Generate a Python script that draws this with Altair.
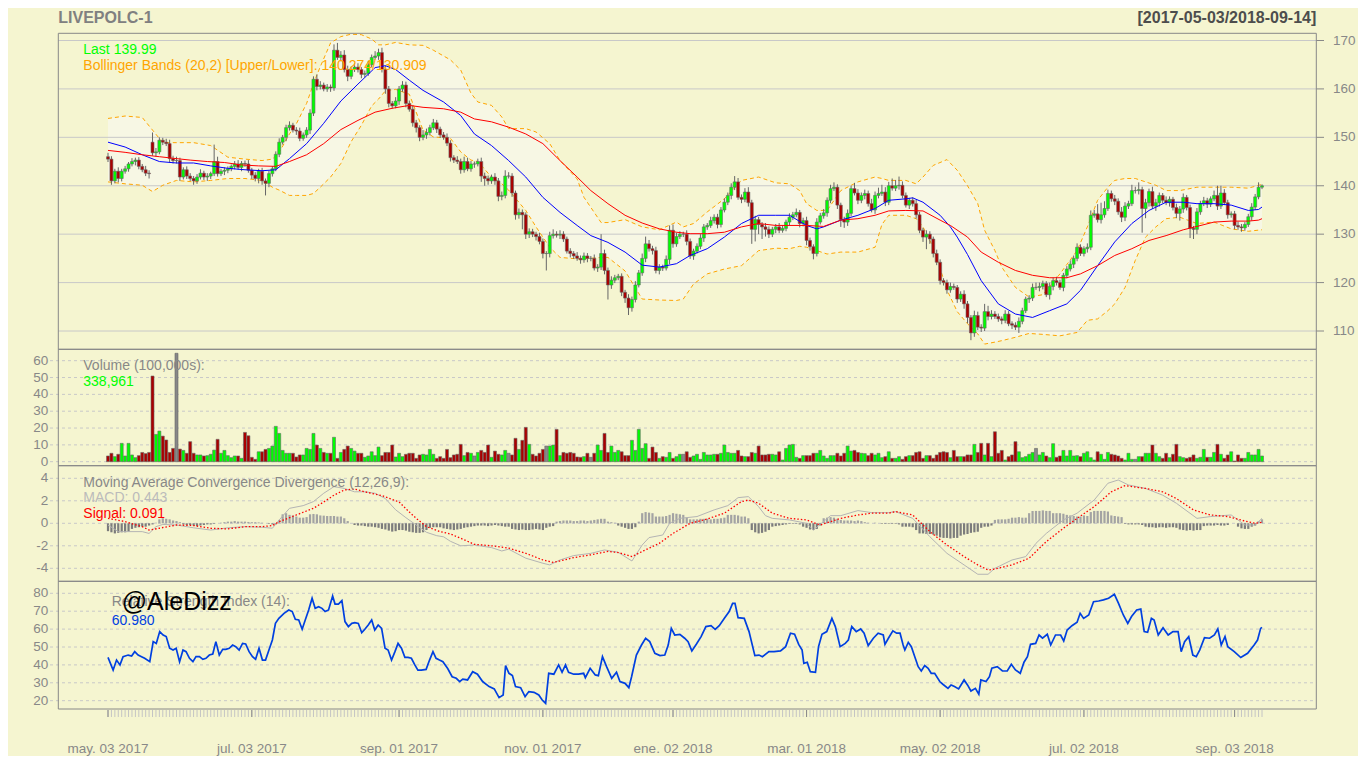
import altair as alt
import pandas as pd

# ---------------- data ----------------
# daily closes, 2017-05-03 .. 2018-09-14 (338 sessions)
closes = [
    145.5, 141.0, 143.0, 141.5, 143.0, 143.5, 144.5, 145.0, 145.3, 144.0, 143.3, 142.6, 142.5, 146.8, 147.0, 149.4, 149.0, 148.7, 145.6, 145.2,
    145.2, 141.8, 143.3, 142.0, 141.5, 141.0, 141.8, 142.6, 141.8, 142.0, 142.5, 145.0, 142.5, 143.0, 143.2, 143.5, 144.0, 144.5, 143.8, 144.6,
    144.5, 143.2, 142.2, 141.5, 143.0, 141.0, 140.5, 142.5, 143.5, 146.5, 149.0, 150.0, 152.0, 152.5, 151.5, 151.3, 149.8, 150.5, 151.5, 155.0,
    162.0, 160.5, 160.8, 160.0, 160.4, 160.2, 168.0, 166.5, 167.0, 164.0, 162.6, 164.0, 164.5, 164.0, 163.0, 163.2, 165.0, 166.5, 166.8, 167.5,
    164.0, 160.0, 157.0, 156.5, 157.5, 160.0, 160.8, 157.0, 155.8, 153.0, 152.0, 150.0, 150.5, 151.0, 152.0, 153.0, 151.7, 150.5, 150.0, 148.8,
    145.8, 145.3, 145.0, 143.3, 145.0, 143.5, 144.5, 144.5, 145.0, 142.0, 141.5, 141.0, 141.8, 141.0, 137.8, 138.0, 142.0, 142.0, 138.5, 134.0,
    134.5, 134.0, 130.0, 130.5, 130.0, 129.5, 128.5, 126.0, 126.0, 129.7, 130.0, 129.8, 130.0, 129.0, 126.5, 126.0, 125.5, 125.0, 124.7, 125.5,
    125.0, 125.0, 123.0, 123.2, 126.0, 122.5, 119.5, 120.5, 121.0, 121.3, 118.0, 116.8, 114.8, 116.5, 119.5, 122.0, 125.0, 128.0, 127.0, 126.6,
    122.5, 123.2, 123.0, 124.8, 130.8, 128.0, 129.5, 130.0, 130.0, 128.5, 125.5, 126.5, 127.5, 129.2, 131.5, 131.8, 132.8, 133.5, 132.0, 135.0,
    136.6, 138.0, 139.7, 140.8, 137.6, 137.2, 138.7, 136.5, 131.0, 133.0, 132.0, 131.5, 131.0, 130.0, 131.0, 131.5, 130.8, 131.2, 132.5, 133.5,
    134.0, 134.5, 132.2, 132.8, 128.7, 127.4, 126.0, 132.5, 133.8, 134.4, 137.0, 139.4, 139.7, 136.0, 133.0, 132.5, 134.3, 139.4, 138.5, 137.0,
    138.0, 138.4, 136.3, 135.0, 138.0, 138.4, 138.7, 136.6, 140.0, 139.5, 140.0, 140.1, 138.0, 136.0, 137.0, 136.3, 134.0, 130.8, 129.4, 130.0,
    129.0, 126.0, 124.2, 120.4, 120.0, 118.5, 119.2, 119.0, 116.6, 117.6, 115.6, 112.8, 109.6, 113.2, 110.8, 110.6, 114.0, 113.0, 113.5, 113.0,
    112.5, 112.2, 113.5, 111.5, 111.2, 110.8, 112.0, 114.2, 116.6, 116.8, 119.0, 119.0, 119.2, 119.8, 117.5, 119.2, 120.4, 120.0, 119.0, 121.5,
    122.8, 123.8, 125.0, 127.3, 126.0, 127.0, 127.3, 133.9, 134.2, 133.0, 134.0, 135.3, 138.4, 137.3, 136.8, 134.6, 133.5, 135.8, 136.3, 139.0,
    139.0, 139.2, 135.3, 136.5, 138.8, 135.8, 136.5, 138.0, 137.0, 136.5, 137.2, 135.5, 134.3, 135.2, 137.6, 135.5, 131.2, 131.0, 134.6, 136.3,
    136.9, 136.2, 137.3, 138.0, 135.8, 138.5, 136.5, 134.0, 134.2, 131.8, 131.5, 131.3, 132.0, 133.6, 135.6, 137.7, 139.7, 139.99,
]
first_open = 146.0
gap_opens = {13: 149.0}          # opening gaps

wick_up = [
    0.8, 0.6, 0.5, 0.8, 0.5, 0.6, 0.4, 0.7, 0.5, 0.6, 0.5, 0.8, 0.6, 2.0, 0.8, 0.6, 0.5, 0.7, 0.8, 0.6,
    0.8, 0.6, 0.5, 0.7, 0.6, 0.5, 0.6, 0.8, 0.5, 0.6, 0.4, 3.5, 1.0, 0.5, 0.6, 0.5, 0.4, 0.6, 0.8, 0.5,
    0.6, 0.8, 0.5, 0.6, 0.5, 0.7, 0.5, 0.6, 0.5, 0.6, 0.8, 0.5, 0.6, 0.8, 0.5, 0.6, 0.7, 0.5, 0.6, 0.8,
    0.6, 1.0, 0.8, 0.5, 0.6, 0.5, 1.2, 1.5, 0.8, 1.0, 0.8, 0.6, 0.7, 0.8, 0.5, 0.6, 0.8, 0.6, 1.0, 0.8,
    1.0, 0.8, 0.6, 0.5, 0.8, 0.6, 0.8, 0.7, 0.6, 0.8, 0.6, 0.5, 1.0, 0.8, 0.6, 0.8, 0.6, 0.5, 0.6, 0.8,
    0.6, 0.5, 0.8, 0.6, 1.0, 0.8, 0.6, 0.5, 0.6, 0.8, 0.7, 0.6, 0.5, 0.8, 0.6, 0.8, 1.2, 0.8, 0.6, 0.5,
    0.8, 0.6, 0.5, 0.7, 0.6, 0.5, 0.8, 0.6, 0.5, 0.8, 1.0, 0.6, 0.8, 0.6, 0.5, 0.6, 0.5, 0.8, 0.6, 0.7,
    0.6, 0.5, 0.8, 0.6, 4.0, 0.8, 0.6, 0.8, 0.6, 0.5, 0.6, 0.5, 0.8, 0.6, 0.8, 0.6, 1.0, 1.5, 0.8, 0.6,
    0.8, 0.6, 0.5, 0.8, 1.0, 1.2, 0.8, 0.6, 0.5, 0.8, 0.6, 0.5, 0.6, 0.8, 0.6, 0.5, 0.8, 0.6, 0.7, 0.6,
    0.8, 0.6, 0.8, 1.2, 0.8, 0.6, 0.8, 1.0, 0.6, 0.8, 0.6, 0.5, 0.8, 0.6, 0.5, 0.6, 0.8, 0.6, 0.5, 0.8,
    0.6, 0.8, 0.5, 0.6, 0.8, 0.6, 0.5, 0.8, 0.6, 0.8, 0.6, 0.8, 1.0, 0.6, 0.5, 0.6, 0.8, 0.6, 1.2, 0.8,
    0.6, 0.8, 0.6, 1.0, 0.8, 1.2, 1.5, 1.0, 0.8, 1.5, 1.2, 1.8, 0.8, 0.6, 0.5, 0.6, 0.8, 0.6, 0.5, 0.8,
    0.6, 0.5, 0.8, 0.6, 0.5, 0.6, 0.8, 0.6, 0.5, 0.6, 0.8, 0.6, 0.5, 1.0, 0.8, 0.6, 1.6, 1.2, 0.8, 0.6,
    0.6, 0.5, 0.8, 0.6, 0.5, 0.6, 0.8, 0.6, 0.5, 0.6, 0.8, 1.0, 0.8, 0.6, 0.5, 0.8, 0.6, 0.8, 0.6, 0.5,
    0.6, 0.8, 0.6, 0.8, 0.6, 0.5, 0.8, 1.0, 0.8, 2.0, 2.5, 1.5, 0.8, 0.6, 0.8, 0.6, 1.0, 0.8, 0.6, 1.2,
    0.8, 1.5, 0.6, 0.8, 0.6, 1.0, 0.8, 0.6, 0.5, 0.8, 0.6, 0.5, 0.8, 0.6, 0.8, 0.5, 0.6, 0.5, 0.8, 0.6,
    0.8, 0.6, 0.5, 1.0, 2.0, 1.5, 0.8, 0.6, 0.5, 0.6, 0.8, 0.6, 0.5, 0.6, 0.8, 0.6, 1.0, 0.3,
]
wick_dn = [
    0.6, 0.8, 0.5, 0.8, 0.6, 0.5, 0.6, 0.5, 0.8, 0.6, 0.5, 0.6, 1.0, 0.6, 0.8, 0.5, 0.6, 0.5, 0.8, 0.6,
    0.6, 0.8, 0.5, 0.6, 0.5, 0.8, 0.6, 0.5, 0.6, 0.8, 0.6, 0.5, 0.6, 0.5, 0.8, 0.6, 0.5, 0.6, 0.5, 0.8,
    0.6, 0.5, 0.8, 0.6, 1.0, 0.8, 2.5, 0.8, 0.6, 0.5, 0.6, 0.5, 0.8, 0.6, 0.5, 0.8, 0.6, 0.5, 0.6, 0.8,
    0.6, 0.8, 0.6, 0.5, 0.6, 0.8, 0.6, 0.5, 0.8, 0.6, 1.0, 0.6, 0.5, 0.6, 0.8, 0.6, 0.5, 0.6, 0.5, 0.8,
    0.6, 1.0, 0.8, 0.6, 0.5, 0.8, 0.6, 0.8, 0.5, 0.8, 1.0, 0.8, 0.6, 0.8, 0.6, 0.5, 0.8, 0.6, 0.5, 0.6,
    0.8, 0.6, 0.5, 0.8, 0.6, 0.5, 0.6, 0.8, 0.5, 1.2, 1.5, 0.8, 0.6, 0.8, 1.0, 0.8, 0.6, 0.5, 0.8, 1.0,
    0.8, 3.0, 1.0, 0.8, 0.6, 0.8, 0.6, 1.0, 3.5, 0.8, 0.6, 0.5, 0.8, 0.6, 0.5, 0.8, 0.6, 0.5, 0.8, 0.6,
    0.8, 0.6, 0.5, 0.8, 0.6, 0.8, 3.0, 0.8, 0.6, 0.5, 0.8, 1.0, 1.5, 0.8, 0.6, 0.5, 0.6, 0.8, 0.6, 0.8,
    0.6, 0.8, 0.6, 0.5, 1.0, 0.8, 0.6, 0.5, 0.6, 0.8, 0.6, 0.8, 0.5, 0.6, 0.8, 0.6, 0.5, 0.6, 0.8, 0.6,
    0.5, 0.6, 0.8, 0.6, 0.5, 0.8, 0.6, 0.8, 3.0, 2.5, 2.0, 2.5, 1.5, 0.8, 0.6, 0.8, 0.6, 0.5, 0.6, 0.8,
    0.6, 0.5, 0.8, 0.6, 1.0, 0.8, 1.2, 0.6, 0.5, 0.6, 0.8, 0.6, 0.5, 0.8, 1.5, 1.2, 0.8, 0.6, 0.5, 0.8,
    0.6, 0.8, 0.6, 0.5, 0.8, 0.6, 0.5, 0.8, 0.6, 0.5, 0.6, 0.8, 0.6, 0.5, 0.8, 0.6, 0.8, 0.6, 1.0, 2.5,
    1.0, 0.8, 0.6, 0.8, 0.6, 0.8, 0.6, 0.5, 0.8, 0.6, 1.0, 1.2, 1.5, 0.8, 0.6, 0.8, 0.6, 0.8, 0.6, 0.5,
    0.6, 0.8, 0.6, 0.5, 0.8, 0.6, 1.2, 0.6, 0.5, 0.8, 0.6, 0.5, 0.8, 0.6, 0.5, 1.0, 0.8, 0.6, 0.5, 0.8,
    0.6, 0.5, 0.8, 0.6, 0.5, 0.6, 0.8, 0.6, 0.5, 0.6, 0.8, 0.6, 0.5, 0.6, 0.8, 0.6, 1.0, 0.8, 0.6, 0.5,
    0.6, 0.8, 5.0, 2.0, 0.8, 0.6, 1.0, 0.8, 0.6, 0.5, 0.8, 0.6, 1.0, 1.5, 0.8, 0.6, 2.0, 2.0, 1.0, 0.6,
    0.5, 0.8, 0.6, 0.5, 0.8, 0.6, 0.5, 0.8, 0.6, 0.8, 0.6, 0.8, 0.6, 0.5, 0.8, 0.6, 0.5, 0.4,
]

# volume in 100,000s
volume = [
    3.4, 5.0, 3.0, 4.4, 10.9, 3.4, 10.9, 4.0, 2.4, 3.6, 5.5, 4.8, 5.5, 50.9, 16.2, 18.2, 15.2, 12.9, 5.5, 7.9,
    64.4, 7.5, 6.7, 5.0, 11.9, 5.0, 4.0, 4.0, 3.4, 3.6, 4.4, 6.9, 13.3, 5.0, 6.7, 3.6, 2.4, 3.4, 3.4, 2.0,
    17.4, 15.4, 2.6, 1.4, 5.9, 5.9, 7.3, 7.9, 9.3, 21.0, 16.8, 6.7, 5.0, 5.0, 5.0, 2.8, 4.0, 4.0, 7.9, 7.3,
    16.8, 9.9, 7.9, 5.5, 5.0, 5.0, 14.5, 2.0, 5.5, 7.3, 9.3, 7.9, 6.3, 5.0, 5.0, 2.6, 3.4, 5.9, 3.6, 8.7,
    3.6, 5.5, 5.5, 9.9, 2.8, 5.0, 3.0, 4.4, 5.0, 5.0, 2.0, 4.0, 4.4, 4.0, 7.3, 4.4, 2.0, 3.0,
    2.0, 7.3, 2.4, 4.0, 4.4, 10.3, 3.6, 5.5,
    5.0, 3.4, 5.5, 6.7, 5.5, 9.9, 2.6, 6.3, 4.4, 4.0, 6.7, 5.0, 4.0, 13.9, 7.3, 12.7, 20.4, 10.3, 4.4, 3.4,
    5.0, 7.3, 9.3, 9.3, 9.9, 19.2, 3.6, 5.5, 5.0, 5.5, 5.0, 2.8, 2.6, 3.0, 5.0,
    2.6, 5.0, 9.9, 6.7, 16.8, 5.5, 9.3, 5.5, 6.7, 5.9, 3.6, 3.6, 12.7, 6.7, 19.2, 7.9, 10.7, 2.0, 8.7, 5.5,
    2.0, 3.0, 2.6,
    5.5, 2.0, 3.0, 4.4, 4.4, 5.9, 2.6, 3.4, 4.4, 1.4, 5.5, 4.0, 4.0, 4.4, 4.4, 5.0, 9.9, 5.5, 5.0, 5.0,
    6.7, 3.4, 3.0, 3.0, 5.5, 5.0, 9.3, 4.0, 4.0, 4.4, 4.4, 4.0, 5.9, 1.0, 7.9, 9.9, 10.3, 2.6, 2.0, 3.6,
    3.6, 3.6, 5.0, 5.0, 6.7, 3.4, 2.0, 3.6, 3.6, 5.0, 3.4, 5.0, 9.3, 6.3, 6.7, 5.5, 5.0, 4.8, 3.6, 5.0,
    4.0, 5.0,
    2.4, 3.0, 5.9, 2.0, 2.0, 3.0, 1.4, 3.0, 3.6, 3.6, 5.5, 5.9, 2.0, 3.6, 3.6, 2.0, 4.0, 5.5, 5.9, 5.5,
    2.4, 6.7, 3.0, 3.0, 3.0, 4.0, 4.0, 10.3, 5.5, 10.9, 4.0, 10.9, 3.0, 17.8, 5.0, 6.7, 1.0, 3.0, 4.0, 11.9,
    5.9, 2.4, 3.0, 4.4, 5.5, 7.9, 4.0, 5.5, 3.4, 2.4, 10.7, 2.6, 3.4, 6.7, 3.4, 6.7, 3.4, 3.6, 3.0, 5.0,
    5.9, 2.4, 1.0, 5.9, 4.4, 1.4, 5.5, 4.4, 4.0, 3.4, 2.0, 1.0, 5.0, 1.4, 1.4,
    3.0, 3.0, 5.0, 5.0, 9.9, 5.0, 3.0, 2.0, 5.0, 2.4, 4.4, 10.3, 3.0, 2.4, 2.0, 2.6, 4.0, 2.0, 2.6,
    7.3, 2.6, 2.6, 5.5, 10.3, 4.4, 2.0, 4.0, 5.9, 0.4, 4.0, 2.0, 2.0, 5.5, 4.0, 4.0, 7.3, 3.39,
]

# MACD histogram (daily bars)
macd_hist = [
    -0.7, -0.8, -0.9, -0.85, -0.8, -0.8, -0.75, -0.5, -0.4, -0.35,
    -0.3, -0.3, -0.2, -0.1, 0.05, 0.35, 0.45, 0.4, 0.35, 0.25,
    0.2, 0.1, -0.1, -0.15, -0.15, -0.2, -0.25, -0.2, -0.15, -0.1,
    -0.1, -0.05, 0.0, 0.05, 0.1, 0.15, 0.15, 0.2, 0.15, 0.15,
    0.15, 0.12, 0.1, 0.1, 0.08, 0.05, 0.0, -0.05, -0.1, -0.1,
    0.3, 0.8, 0.9, 0.75, 0.7, 0.6, 0.5, 0.5, 0.55, 0.8,
    0.83, 0.8, 0.7, 0.68, 0.65, 0.65, 0.65, 0.6, 0.6, 0.45,
    0.2, 0.0, -0.15, -0.2, -0.2, -0.25, -0.3, -0.3, -0.35, -0.4,
    -0.5, -0.55, -0.65, -0.74, -0.7, -0.6, -0.6, -0.65, -0.75, -0.8,
    -0.85, -0.85, -0.8, -0.6, -0.4, -0.35, -0.35, -0.35, -0.45, -0.5,
    -0.55, -0.6, -0.55, -0.5, -0.4, -0.35, -0.3, -0.25, -0.2, -0.2,
    -0.2, -0.25, -0.2, -0.15, -0.2, -0.25, -0.3, -0.3, -0.5, -0.55,
    -0.6, -0.55, -0.6, -0.6, -0.55, -0.5, -0.55, -0.6, -0.4, -0.3,
    -0.25, 0.15, 0.2, 0.25, 0.25, 0.25, 0.2, 0.2, 0.25, 0.25,
    0.2, 0.25, 0.3, 0.35, 0.4, 0.4, 0.15, 0.1, 0.05, -0.2,
    -0.3, -0.4, -0.5, -0.5, -0.35, 0.15, 0.9, 1.0, 0.95, 0.9,
    0.6, 0.6, 0.6, 0.65, 0.75, 0.9, 0.85, 0.8, 0.75, 0.5,
    0.35, 0.35, 0.35, 0.4, 0.4, 0.4, 0.35, 0.4, 0.4, 0.45,
    0.5, 0.75, 0.75, 0.75, 0.7, 0.6, 0.6, 0.45, -0.6, -0.8,
    -0.9, -0.85, -0.75, -0.6, -0.3, -0.25, -0.2, -0.15, -0.1, -0.05,
    -0.05, -0.05, -0.1, -0.3, -0.4, -0.55, -0.6, -0.5, -0.2, 0.45,
    0.5, 0.55, 0.5, 0.4, 0.3, 0.25, 0.25, 0.25, 0.2, 0.25,
    0.2, 0.1, 0.05, 0.0, 0.05, 0.0, -0.05, -0.05, -0.05, -0.05,
    -0.05, -0.1, -0.3, -0.3, -0.3, -0.35, -0.6, -0.9, -0.9, -0.95,
    -0.95, -1.0, -1.1, -1.25, -1.3, -1.3, -1.35, -1.3, -1.3, -1.1,
    -1.0, -0.95, -0.85, -0.8, -0.75, -0.4, -0.3, -0.3, -0.2, 0.3,
    0.35, 0.35, 0.35, 0.4, 0.5, 0.5, 0.55, 0.5, 0.5, 0.9,
    1.1, 1.1, 1.1, 1.15, 1.1, 1.1, 0.9, 0.9, 0.9, 0.85,
    0.75, 0.7, 0.65, 0.6, 0.6, 0.7, 0.65, 1.0, 1.1, 1.1,
    1.1, 1.1, 1.05, 0.7, 0.65, 0.6, 0.55, -0.05, -0.1, -0.1,
    -0.1, -0.1, -0.15, -0.3, -0.35, -0.35, -0.4, -0.35, -0.35, -0.4,
    -0.35, -0.35, -0.4, -0.55, -0.6, -0.65, -0.6, -0.65, -0.6, -0.6,
    -0.25, -0.2, -0.2, -0.2, -0.15, -0.2, -0.2, -0.15, 0.0, 0.0,
    -0.3, -0.45, -0.5, -0.5, -0.3, -0.2, 0.2, 0.352,
]

# (session index, value) points
sma20_points = [
    (0, 149.0), (5, 148.0), (10, 146.4), (15, 145.0), (20, 144.7), (25, 144.7), (30, 144.1), (35, 143.6), (40, 143.3), (45, 143.1),
    (49, 143.3), (53, 145.6), (58, 148.7), (63, 152.9), (68, 157.5), (73, 161.0), (78, 164.4), (81, 164.8), (84, 164.0), (88, 161.8),
    (92, 159.7), (98, 157.3), (103, 154.5), (107, 150.7), (112, 148.3), (117, 145.2), (122, 141.8), (127, 137.6), (132, 134.5), (137, 131.8),
    (141, 129.7), (146, 128.3), (151, 126.3), (156, 123.6), (161, 123.2), (166, 123.9), (170, 125.6), (175, 127.0), (180, 129.4), (185, 132.2),
    (190, 133.9), (195, 133.9), (199, 133.9), (204, 131.8), (207, 131.1), (209, 131.5), (214, 132.9), (219, 133.9), (224, 135.3), (228, 137.0),
    (233, 137.3), (235, 137.5), (238, 136.6), (243, 133.9), (246, 131.5), (248, 129.4), (251, 125.8), (255, 120.4), (260, 115.6), (265, 113.5),
    (270, 112.8), (275, 114.2), (280, 115.6), (284, 118.4), (289, 123.5), (294, 128.4), (299, 132.2), (304, 134.9), (309, 136.6), (314, 136.6),
    (318, 136.3), (323, 136.3), (328, 136.0), (333, 134.9), (336, 135.1), (337, 135.6),
]
sma50_points = [
    (0, 147.3), (5, 146.9), (10, 146.4), (15, 146.0), (20, 145.6), (24, 145.3), (29, 145.0), (34, 144.8), (39, 144.3), (44, 144.1),
    (49, 144.0), (53, 145.0), (58, 146.4), (63, 148.7), (68, 151.6), (73, 153.5), (78, 155.2), (83, 156.0), (88, 156.6), (92, 156.2),
    (98, 155.9), (103, 155.2), (107, 153.8), (112, 153.2), (117, 152.1), (122, 150.7), (127, 148.7), (132, 145.2), (137, 141.8), (141, 139.0),
    (146, 136.3), (151, 133.9), (156, 132.3), (161, 131.1), (166, 130.4), (170, 130.1), (175, 130.1), (180, 130.4), (185, 131.5), (190, 132.2),
    (195, 131.8), (199, 131.8), (204, 131.8), (209, 131.6), (214, 132.9), (219, 133.2), (224, 133.9), (228, 134.8), (233, 134.9), (238, 134.8),
    (243, 132.9), (246, 131.8), (251, 129.4), (255, 126.3), (260, 124.2), (265, 122.5), (270, 121.5), (275, 121.0), (280, 121.0), (284, 121.8),
    (289, 123.5), (294, 125.6), (299, 127.0), (304, 128.7), (309, 129.7), (314, 130.9), (318, 131.6), (323, 132.5), (328, 132.7), (333, 132.7),
    (336, 132.9), (337, 133.2),
]
# (index, upper band, lower band)
bbands_points = [
    (0, 153.9, 140.8), (5, 154.4, 140.4), (10, 154.1, 140.1), (13, 151.5, 138.8), (16, 148.9, 140.1), (20, 148.9, 141.1),
    (25, 148.9, 140.8), (30, 148.3, 141.1), (35, 145.9, 141.5), (40, 145.5, 141.5), (45, 145.2, 141.1), (48, 145.5, 139.7),
    (50, 146.9, 139.1), (53, 150.7, 138.0), (55, 152.8, 138.0), (58, 157.0, 138.0), (60, 161.1, 138.4), (62, 164.6, 139.7),
    (65, 169.5, 141.8), (68, 170.8, 144.6), (71, 171.3, 149.1), (74, 171.2, 152.5), (77, 170.3, 156.5), (79, 169.1, 157.9),
    (81, 169.1, 159.6), (84, 169.6, 159.9), (88, 169.1, 158.9), (92, 169.0, 151.5), (95, 168.0, 150.1), (100, 166.0, 149.8),
    (103, 163.9, 147.0), (106, 159.1, 145.3), (108, 157.3, 145.0), (112, 156.6, 141.8), (115, 154.2, 140.4), (117, 151.8, 139.1),
    (122, 151.8, 134.9), (125, 151.1, 131.5), (129, 148.7, 127.3), (132, 145.2, 125.2), (137, 141.4, 124.9), (139, 137.6, 124.9),
    (144, 132.4, 125.2), (146, 132.4, 125.2), (151, 133.0, 122.4), (156, 131.5, 116.6), (161, 130.9, 116.4), (166, 132.5, 116.3),
    (168, 131.5, 116.6), (171, 132.2, 119.7), (175, 134.6, 121.8), (180, 137.3, 122.8), (185, 141.1, 123.5), (190, 141.8, 126.6),
    (195, 140.6, 127.1), (199, 140.4, 127.0), (202, 139.0, 127.5), (204, 136.3, 127.3), (207, 134.9, 126.6), (210, 134.9, 125.9),
    (214, 139.0, 126.3), (219, 140.8, 126.3), (224, 141.8, 127.3), (226, 141.5, 132.0), (228, 141.1, 133.9), (233, 141.1, 133.9),
    (236, 140.4, 133.2), (238, 141.8, 131.5), (241, 144.2, 127.3), (245, 145.4, 118.5), (248, 143.2, 114.0), (251, 140.0, 111.5),
    (254, 136.3, 109.4), (256, 130.8, 107.3), (259, 126.6, 107.7), (261, 123.2, 108.0), (265, 119.0, 108.7), (269, 117.0, 109.5),
    (273, 117.5, 109.3), (278, 121.8, 109.0), (283, 126.6, 109.7), (286, 131.5, 112.2), (289, 137.0, 112.5), (292, 139.7, 114.2),
    (294, 141.1, 115.6), (297, 141.5, 119.0), (300, 141.5, 124.6), (303, 140.8, 129.4), (306, 140.1, 131.5), (309, 139.0, 133.2),
    (313, 139.0, 133.5), (318, 139.7, 132.2), (323, 139.7, 132.5), (328, 139.7, 131.1), (333, 139.5, 130.6), (337, 140.274, 130.909),
]
macd_points = [
    (0, -0.15), (3, -0.74), (10, -0.74), (12, -0.9), (14, -0.3), (16, -0.1), (20, -0.15), (25, -0.4), (30, -0.6), (35, -0.4),
    (40, -0.3), (45, -0.35), (48, -0.44), (50, 0.3), (53, 1.33), (57, 1.57), (60, 1.93), (63, 2.67), (66, 3.26), (69, 3.1),
    (72, 2.8), (75, 2.8), (78, 2.67), (81, 2.2), (84, 1.2), (87, 0.5), (90, -0.15), (93, -0.8), (96, -1.1), (98, -1.2),
    (100, -1.6), (103, -2.0), (107, -1.93), (112, -2.16), (115, -2.46), (117, -2.3), (122, -3.1), (127, -3.55), (129, -3.7), (132, -3.26),
    (136, -2.87), (141, -2.67), (145, -2.37), (149, -2.58), (153, -3.35), (156, -1.93), (158, -1.27), (162, -1.04), (164, 0.0), (167, 0.44),
    (172, 0.6), (177, 1.19), (181, 1.57), (184, 2.28), (187, 2.37), (190, 1.48), (192, 0.68), (194, 0.44), (199, 0.3), (204, 0.0),
    (206, -0.6), (211, 0.68), (214, 0.68), (219, 1.13), (223, 0.95), (228, 0.95), (230, 1.04), (235, 0.44), (240, -1.19), (245, -2.67),
    (250, -3.7), (254, -4.53), (257, -4.53), (259, -4.0), (264, -3.26), (268, -2.96), (271, -1.78), (274, -0.9), (279, 0.3), (283, 0.9),
    (288, 2.07), (292, 3.56), (295, 3.85), (298, 3.41), (303, 3.1), (308, 2.5), (312, 1.78), (318, 0.44), (322, 0.6), (328, 0.74),
    (332, -0.15), (335, -0.15), (337, 0.443),
]
signal_points = [
    (0, 0.44), (5, 0.15), (10, -0.3), (12, -0.6), (15, -0.44), (20, -0.15), (25, -0.2), (30, -0.44), (35, -0.5), (40, -0.3),
    (45, -0.3), (48, -0.2), (50, 0.15), (55, 0.74), (60, 1.33), (63, 1.9), (66, 2.5), (69, 2.96), (72, 3.05), (75, 2.8),
    (80, 2.46), (85, 1.9), (88, 1.0), (90, 0.44), (93, -0.3), (97, -0.74), (100, -0.95), (103, -1.33), (107, -1.87), (112, -2.0),
    (117, -2.2), (122, -2.67), (127, -3.26), (130, -3.47), (132, -3.35), (136, -3.05), (141, -2.8), (146, -2.5), (149, -2.6), (153, -2.96),
    (156, -2.5), (161, -1.78), (165, -0.9), (170, 0.0), (175, 0.38), (180, 0.9), (185, 1.93), (187, 2.07), (190, 1.78), (194, 0.9),
    (199, 0.44), (204, 0.3), (208, -0.15), (211, 0.15), (214, 0.44), (219, 0.74), (223, 0.9), (228, 0.9), (230, 1.04), (235, 0.74),
    (240, -0.74), (245, -1.93), (250, -2.96), (254, -3.7), (257, -4.15), (259, -4.06), (264, -3.7), (269, -3.1), (274, -1.63), (279, -0.44),
    (283, 0.44), (288, 1.48), (293, 2.8), (297, 3.35), (301, 3.17), (303, 3.1), (308, 2.8), (312, 2.2), (317, 1.19), (322, 0.74),
    (327, 0.6), (332, 0.2), (335, 0.0), (337, 0.091),
]
rsi_points = [
    (0, 44.2), (1.5, 37.1), (2.5, 42.7), (3.5, 40), (4.4, 44.6), (5.9, 45.5), (6.9, 45), (7.8, 47.4), (8.8, 45.5), (9.8, 44.6),
    (10.7, 43.7), (12.2, 41.8), (13.2, 53), (14.1, 52), (15.1, 58.6), (16.1, 56.7), (17, 55.8), (18, 49.3), (19, 48.3), (19.9, 49.3),
    (20.9, 41.8), (21.9, 48.3), (22.8, 47.4), (23.8, 43.7), (24.8, 41.8), (25.7, 44.6), (26.7, 44.6), (27.7, 43.1), (28.6, 43.7), (29.6, 45.5),
    (30.6, 46.1), (31.5, 53), (32.5, 45.5), (33.5, 48.7), (34.4, 48.7), (35.4, 49.3), (36.4, 51.1), (37.3, 50.2), (38.3, 48.3), (39.3, 52),
    (40.2, 51.7), (41.2, 47.4), (42.2, 44.6), (43.1, 43.1), (44.1, 49.3), (45.1, 42.7), (46, 42.7), (47, 48.3), (48, 53.9), (48.9, 63.2),
    (49.9, 66), (51.4, 68.8), (52.8, 70.7), (53.8, 69.8), (54.7, 65.5), (55.7, 65.1), (56.7, 59.9), (57.6, 65.1), (58.6, 70.7), (59.6, 77.2),
    (60.5, 71.6), (61.5, 72.5), (62.5, 71.6), (63.4, 69.8), (64.4, 70.7), (65.6, 78.5), (66.3, 74), (67.3, 74), (68.3, 75.9), (69.2, 64.2),
    (70.2, 61.4), (71.2, 63.2), (72.1, 63.6), (73.1, 63.2), (74.1, 58), (75, 59.9), (76, 62.3), (77, 65.1), (77.9, 59.5), (78.9, 62.3),
    (79.9, 60.4), (80.9, 49.3), (81.8, 48.3), (82.8, 42.7), (83.8, 47.4), (84.7, 52), (85.7, 49.3), (86.7, 44.2), (87.6, 44.2), (88.6, 43.7),
    (89.6, 40), (90.5, 37.1), (91.5, 37.1), (92.9, 37.5), (93.9, 42.7), (94.9, 47.4), (95.8, 43.7), (96.8, 42.7), (97.8, 41.8), (99.2, 38),
    (100.5, 33.4), (101.7, 32.5), (102.7, 30.7), (103.6, 32.1), (105, 31.6), (106.5, 36.2), (107.9, 34.8), (109.4, 30.7), (111.3, 27.9), (112.8, 26.6),
    (114.2, 21.7), (115.4, 23.2), (116.1, 39.6), (117.1, 35.3), (118.1, 34), (119, 27.9), (120.5, 27.3), (121.8, 22.3), (122.9, 25.1), (124.4, 24.7),
    (125.8, 23.2), (126.8, 20.4), (127.8, 18.5), (128.7, 35.3), (130.2, 34.8), (131.6, 40), (132.6, 35.9), (133.6, 40), (134.5, 35.9), (136, 34.8),
    (137.4, 34.8), (138.9, 35.3), (139.4, 32.9), (140.8, 38.1), (142.3, 34.4), (143.2, 34), (144.4, 44.6), (145.6, 39), (147.1, 32.5), (148.5, 35.9),
    (149.5, 30.7), (151, 29.7), (152.1, 27.3), (152.9, 33.4), (154.3, 45.5), (155.8, 51.1), (157, 54.9), (158.2, 53), (159.7, 46.5), (161.2, 45.2),
    (162.6, 45.5), (163.6, 51.1), (164.5, 60.4), (165.5, 56.7), (167, 57.1), (168.4, 54.9), (169.4, 53), (170.5, 47.8), (171.8, 51.5), (173.2, 55.8),
    (174.6, 61.4), (176.1, 61.9), (177.3, 59.9), (178.5, 61.9), (180, 66), (181.4, 69.8), (182.4, 74.4), (183.1, 74.4), (184, 66.4), (185.8, 66),
    (187.2, 58.6), (188.9, 45.2), (190.1, 45.5), (191.1, 44.6), (193, 47.4), (194.5, 47.4), (196.4, 47.8), (197.9, 50.2), (199.3, 57.7), (200.5, 57.1),
    (201.7, 51.5), (202.7, 48.3), (203.2, 40.9), (204.2, 41.5), (205.1, 36.2), (206.6, 35.9), (207.5, 50.2), (208.5, 57.1), (209.9, 58.6), (211.4, 66),
    (212.4, 61.4), (213.8, 50.2), (215.3, 52), (216.2, 53.9), (217.2, 61.4), (218.5, 58.6), (219.8, 60.1), (220.8, 57.7), (222, 50.8), (223.5, 54.9),
    (224.9, 57.7), (226.4, 56.7), (226.9, 51.5), (227.9, 54.9), (229.2, 59), (230.3, 57.7), (231.3, 57.7), (232.2, 51.1), (232.7, 48.3), (233.7, 52.6),
    (234.6, 50.2), (235.6, 44.6), (236.6, 39), (237.5, 36.6), (238.5, 39.6), (239.5, 38.1), (240.4, 35.3), (241.4, 35.3), (242.9, 30.7), (243.8, 29.2),
    (245.3, 26.9), (246.2, 28.8), (247.2, 27.9), (248.4, 26.6), (250, 31.6), (251, 28.8), (252, 25.4), (253.3, 26.9), (254.3, 23.6), (254.9, 31.6),
    (256.4, 30.7), (257.4, 33.4), (258.1, 38.1), (259.7, 39), (261.2, 36.6), (262.6, 36.6), (263.8, 40.3), (265, 37.2), (266.4, 35.3), (267.5, 41.5),
    (268.5, 44.6), (269.4, 51.5), (270.9, 52), (271.9, 56.7), (272.9, 54.9), (274.3, 57.1), (275.3, 51.1), (276.7, 56.7), (278.2, 56.7), (279.1, 53.4),
    (280.1, 59.5), (281.5, 61.9), (283, 63.8), (283.9, 68.8), (284.9, 66), (286.4, 67.9), (287.8, 75.3), (289.3, 75.7), (290.7, 76.3), (292.2, 77.2),
    (293.9, 79.4), (295.1, 74.4), (296.5, 67.9), (297.8, 63.2), (298.9, 67), (300.4, 70.7), (301.6, 71.2), (302.6, 58.6), (303.6, 58.2), (304.7, 66),
    (305.5, 65.1), (306.7, 56.7), (308.1, 60.8), (309.6, 56.7), (311, 58.6), (312.5, 58.6), (313.4, 47.4), (314.4, 53), (315.6, 55.8), (316.8, 45.5),
    (317.8, 44.6), (318.8, 48.3), (320.2, 55.2), (321.7, 54.9), (323.1, 56.7), (324.1, 60.1), (325.1, 51.1), (326.2, 55.8), (327, 50.2), (328.9, 47.4),
    (330.8, 44.1), (332.8, 46.5), (334.7, 51.1), (335.7, 53.9), (336.6, 60.4), (337, 60.98),
]

date_tick_idx = [0, 42, 85, 127, 165, 204, 243, 285, 329]
date_tick_labels = ["may. 03 2017", "jul. 03 2017", "sep. 01 2017", "nov. 01 2017", "ene. 02 2018",
                    "mar. 01 2018", "may. 02 2018", "jul. 02 2018", "sep. 03 2018"]
price_ticks = [110, 120, 130, 140, 150, 160, 170]
volume_ticks = [0, 10, 20, 30, 40, 50, 60]
macd_ticks = [-4, -2, 0, 2, 4]
rsi_ticks = [20, 30, 40, 50, 60, 70, 80]

# ---------------- tables ----------------
N = len(closes)
assert N == 338, N
assert len(volume) == N, len(volume)
assert len(macd_hist) == N, len(macd_hist)
assert len(wick_up) == N and len(wick_dn) == N, (len(wick_up), len(wick_dn))

UP, DN, FLAT = "#00FF00", "#AA0000", "#888888"
opens = [first_open] + closes[:-1]
for k, v in gap_opens.items():
    opens[k] = v
rows = []
for i in range(N):
    o, c = opens[i], closes[i]
    col = UP if c > o else (DN if c < o else FLAT)
    rows.append({"idx": i, "open": o, "close": c,
                 "high": max(o, c) + wick_up[i], "low": min(o, c) - wick_dn[i],
                 "col": col, "vol": volume[i], "hist": macd_hist[i],
                 "hcol": "#A3A3A3" if macd_hist[i] >= 0 else "#7C7C7C"})
df = pd.DataFrame(rows)
sma20_df = pd.DataFrame(sma20_points, columns=["idx", "v"])
sma50_df = pd.DataFrame(sma50_points, columns=["idx", "v"])
bb_df = pd.DataFrame(bbands_points, columns=["idx", "up", "dn"])
macd_df = pd.DataFrame(macd_points, columns=["idx", "v"])
sig_df = pd.DataFrame(signal_points, columns=["idx", "v"])
rsi_df = pd.DataFrame(rsi_points, columns=["idx", "v"])
dt_df = pd.DataFrame({"idx": date_tick_idx, "lab": date_tick_labels})


def tick_df(vals):
    return pd.DataFrame({"v": vals, "lab": [str(v) for v in vals]})


one = pd.DataFrame({"k": [0]})

# ---------------- geometry / style ----------------
FONT = "Liberation Sans"
BG = "#F5F5D0"
L, R = 50.3, 1308.3
X = alt.X("idx:Q", scale=alt.Scale(domain=[0, 337], range=[95, 1259], nice=False, zero=False), axis=None)


def sc(dom, rng):
    return alt.Scale(domain=dom, range=rng, nice=False, zero=False)


PS = sc([110, 170], [323, 32.5])
VS = sc([0, 60], [453.7, 352.7])
MS = sc([-4, 4], [560.3, 470.3])
RS = sc([20, 80], [692.7, 585.3])


def Y(f, s):
    return alt.Y(f"{f}:Q", scale=s, axis=None)


layers = []
# Bollinger band fill
layers.append(alt.Chart(bb_df).mark_area(color="#F7F7E4").encode(x=X, y=Y("up", PS), y2="dn:Q"))
# grids
layers.append(alt.Chart(tick_df(price_ticks)).mark_rule(color="#C8C8C8", strokeWidth=1)
              .encode(y=Y("v", PS), x=alt.value(L), x2=alt.value(R)))
for vals, s in [(volume_ticks, VS), (macd_ticks, MS), (rsi_ticks, RS)]:
    layers.append(alt.Chart(tick_df(vals)).mark_rule(color="#C8C8C8", strokeWidth=1, strokeDash=[3, 3])
                  .encode(y=Y("v", s), x=alt.value(42), x2=alt.value(R)))
# Bollinger lines
for f in ["up", "dn"]:
    layers.append(alt.Chart(bb_df).mark_line(color="#FFA500", strokeWidth=1, strokeDash=[4, 3])
                  .encode(x=X, y=Y(f, PS)))
# candles
layers.append(alt.Chart(df).mark_rule(color="#666666", strokeWidth=1)
              .encode(x=X, y=Y("low", PS), y2="high:Q"))
layers.append(alt.Chart(df).mark_bar(size=3, stroke="#666666", strokeWidth=0.6)
              .encode(x=X, y=Y("open", PS), y2="close:Q", color=alt.Color("col:N", scale=None)))
# moving averages
layers.append(alt.Chart(sma20_df).mark_line(color="#0000FF", strokeWidth=1).encode(x=X, y=Y("v", PS)))
layers.append(alt.Chart(sma50_df).mark_line(color="#FF0000", strokeWidth=1).encode(x=X, y=Y("v", PS)))
# volume
layers.append(alt.Chart(df).mark_bar(size=3, stroke="#666666", strokeWidth=0.6)
              .encode(x=X, y=Y("vol", VS), y2=alt.datum(0), color=alt.Color("col:N", scale=None)))
# MACD
layers.append(alt.Chart(df).mark_bar(size=2.2)
              .encode(x=X, y=Y("hist", MS), y2=alt.datum(0), color=alt.Color("hcol:N", scale=None)))
layers.append(alt.Chart(macd_df).mark_line(color="#B4B4B4", strokeWidth=1).encode(x=X, y=Y("v", MS)))
layers.append(alt.Chart(sig_df).mark_line(color="#FF0000", strokeWidth=1.3, strokeDash=[1.5, 2])
              .encode(x=X, y=Y("v", MS)))
# RSI
layers.append(alt.Chart(rsi_df).mark_line(color="#0040E0", strokeWidth=1.7).encode(x=X, y=Y("v", RS)))

# panel frames
for top, bot in [(25.3, 341.3), (341.3, 457.7), (457.7, 573.3), (573.3, 701)]:
    layers.append(alt.Chart(one).mark_rect(fillOpacity=0, stroke="#888888", strokeWidth=1)
                  .encode(x=alt.value(L), x2=alt.value(R), y=alt.value(top), y2=alt.value(bot)))

# price axis (right)
layers.append(alt.Chart(tick_df(price_ticks)).mark_rule(color="#888888")
              .encode(y=Y("v", PS), x=alt.value(R), x2=alt.value(1316)))
layers.append(alt.Chart(tick_df(price_ticks)).mark_text(font=FONT, fontSize=13.5, color="#888888", align="left", baseline="middle")
              .encode(y=Y("v", PS), x=alt.value(1325), text="lab:N"))
# left axes
for vals, s in [(volume_ticks, VS), (macd_ticks, MS), (rsi_ticks, RS)]:
    layers.append(alt.Chart(tick_df(vals)).mark_text(font=FONT, fontSize=13.5, color="#888888", align="right", baseline="middle")
                  .encode(y=Y("v", s), x=alt.value(40.3), text="lab:N"))
# date axis
layers.append(alt.Chart(df).mark_rule(color="#C4C4C4", strokeWidth=1)
              .encode(x=X, y=alt.value(702), y2=alt.value(709)))
layers.append(alt.Chart(dt_df).mark_rule(color="#888888", strokeWidth=1)
              .encode(x=X, y=alt.value(702), y2=alt.value(709)))
layers.append(alt.Chart(dt_df).mark_text(font=FONT, fontSize=13.5, color="#888888", align="center", baseline="alphabetic")
              .encode(x=X, y=alt.value(745), text="lab:N"))


def txt(s, x, y, color, size=14, weight="normal", align="left"):
    return (alt.Chart(one).mark_text(font=FONT, fontSize=size, fontWeight=weight, color=color,
                                      align=align, baseline="middle")
            .encode(x=alt.value(x), y=alt.value(y), text=alt.value(s)))


layers += [
    txt("LIVEPOLC-1", L, 10.3, "#808080", 16, "bold"),
    txt("[2017-05-03/2018-09-14]", R, 10.3, "#4D4D4D", 16, "bold", "right"),
    txt("Last 139.99", 75.3, 42, "#00FF00"),
    txt("Bollinger Bands (20,2) [Upper/Lower]: 140.274/130.909", 75.3, 58.3, "#FFA500"),
    txt("Volume (100,000s):", 75.3, 358, "#888888"),
    txt("338,961", 75.3, 374.3, "#00FF00"),
    txt("Moving Average Convergence Divergence (12,26,9):", 75.3, 475.3, "#888888"),
    txt("MACD: 0.443", 75.3, 490.3, "#BBBBBB"),
    txt("Signal: 0.091", 75.3, 506.3, "#FF0000"),
    txt("Relative Strength Index (14):", 103.7, 593.7, "#888888"),
    txt("60.980", 103.7, 613, "#0040E0"),
    txt("@AleDizz", 113.7, 593.7, "#000000", 25),
]

chart = (alt.layer(*layers)
         .resolve_scale(y="independent")
         .properties(width=1350, height=748, padding=0, background=BG,
                     autosize=alt.AutoSizeParams(type="none"))
         .configure_view(strokeWidth=0))

chart.save("out.html", embed_options={"renderer": "svg", "actions": False})
